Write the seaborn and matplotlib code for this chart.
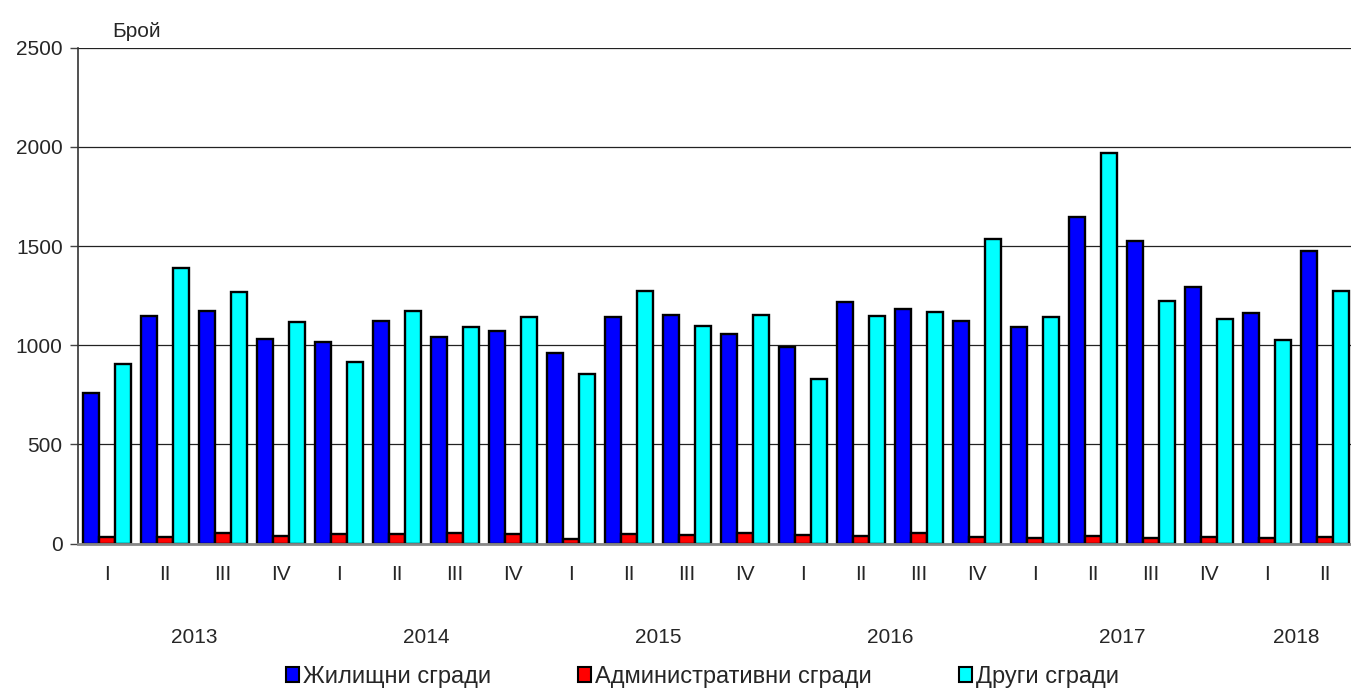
import pandas as pd
import matplotlib.pyplot as plt
import matplotlib.transforms as mtransforms
import seaborn as sns

# Данни
quarters = ['I', 'II', 'III', 'IV'] * 5 + ['I', 'II']
years = ['2013', '2014', '2015', '2016', '2017', '2018']
series = ['Жилищни сгради', 'Административни сгради', 'Други сгради']
colors = ['#0000ff', '#ff0000', '#00ffff']

zhilishtni = [762, 1150, 1173, 1034, 1015, 1123, 1040, 1071, 961, 1141, 1153,
              1055, 993, 1219, 1182, 1121, 1092, 1646, 1527, 1296, 1161, 1476]
administrativni = [32, 32, 56, 39, 47, 47, 52, 47, 25, 47, 42,
                   52, 45, 39, 52, 32, 29, 39, 29, 32, 27, 32]
drugi = [904, 1389, 1268, 1116, 917, 1173, 1093, 1143, 857, 1276, 1098,
         1153, 832, 1146, 1170, 1537, 1141, 1970, 1221, 1130, 1027, 1274]

n = len(quarters)
df = pd.DataFrame({
    'pos': list(range(n)) * 3,
    'serie': [s for s in series for _ in range(n)],
    'value': zhilishtni + administrativni + drugi,
})

sns.set_style('white')
plt.rcParams['font.family'] = ['Liberation Sans', 'DejaVu Sans']

fig = plt.figure(figsize=(13.51, 6.9), dpi=100)
ax = fig.add_axes([0.0577, 0.212, 0.9445, 0.719])

sns.barplot(data=df, x='pos', y='value', hue='serie', hue_order=series,
            palette=colors, width=0.83, gap=0, edgecolor='black',
            linewidth=1.7, saturation=1, ax=ax, legend=False)

ax.set_ylim(0, 2500)
ax.set_xlim(-0.5, n - 0.5)
ax.set_yticks([0, 500, 1000, 1500, 2000, 2500])
ax.yaxis.grid(True, color='#222222', linewidth=0.9)
ax.set_axisbelow(True)
ax.tick_params(axis='y', length=6, width=1, color='#444444', labelsize=15, pad=5, left=True)
ax.tick_params(axis='x', length=0, labelsize=15, pad=15)
ax.set_xticks(range(n))
ax.set_xticklabels(quarters)
ax.set_xlabel('')
ax.set_ylabel('')
for s in ['top', 'right']:
    ax.spines[s].set_visible(False)
ax.spines['left'].set_color('#333333')
ax.spines['left'].set_linewidth(1.2)
ax.spines['bottom'].set_color('#888888')
ax.spines['bottom'].set_linewidth(2)

# Години под тримесечията
trans = mtransforms.blended_transform_factory(ax.transData, ax.transAxes)
for i, y in enumerate(years):
    start = i * 4
    end = min(start + 3, n - 1)
    ax.text((start + end) / 2, -0.19, y, transform=trans, ha='center',
            va='center', fontsize=15)

fig.text(0.083, 0.955, 'Брой', fontsize=15, ha='left', va='center')

handles = [plt.Rectangle((0, 0), 1, 1, facecolor=c, edgecolor='black', linewidth=1.5)
           for c in colors]
fig.legend(handles, series, loc='center', bbox_to_anchor=(0.520, 0.019),
           ncol=3, frameon=False, fontsize=17, handlelength=0.55,
           handleheight=0.55, handletextpad=0.15, columnspacing=3.7,
           borderaxespad=0)

fig.savefig('out.png', dpi=100)
